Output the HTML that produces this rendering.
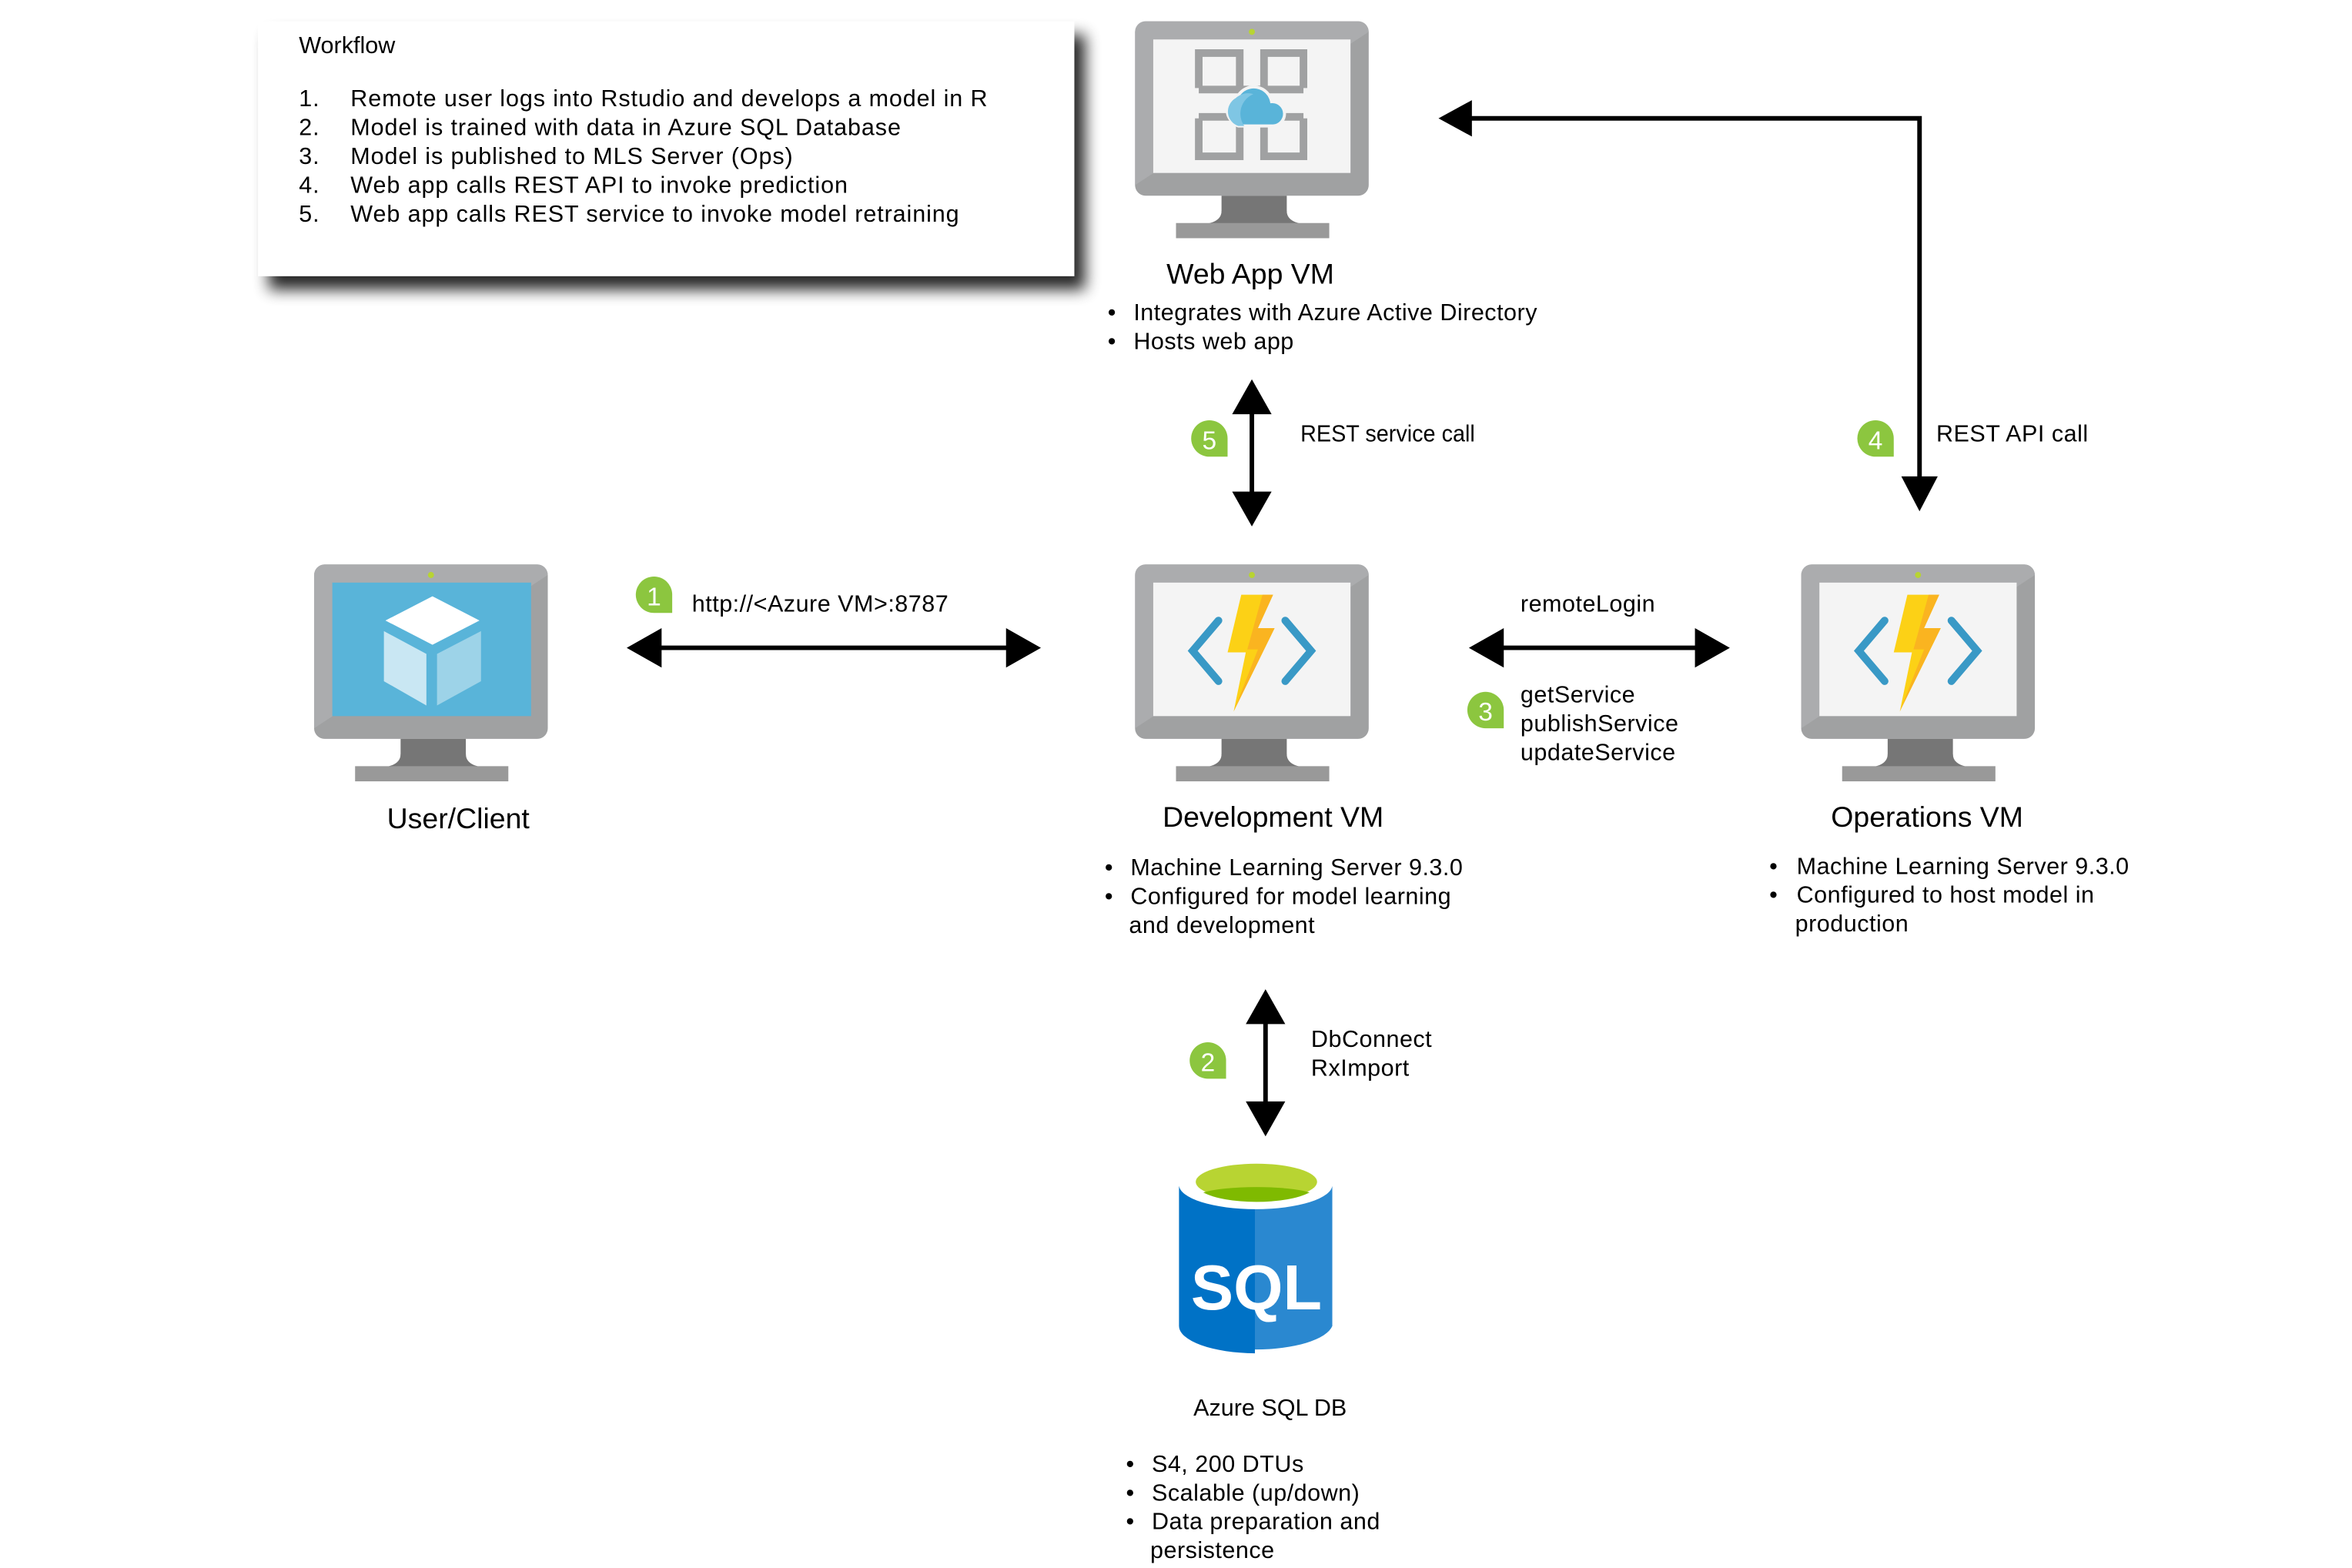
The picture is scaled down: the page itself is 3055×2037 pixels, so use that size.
<!DOCTYPE html>
<html><head><meta charset="utf-8"><style>
html,body{margin:0;padding:0;background:#fff;}
svg{display:block;}
text{font-family:"Liberation Sans",Arial,sans-serif;fill:#000;}
.b{font-size:15.5px;letter-spacing:0.25px;}
.w{font-size:15.5px;letter-spacing:0.45px;}
</style></head><body>
<svg width="3055" height="2037" viewBox="0 0 1550 1033.5" xmlns="http://www.w3.org/2000/svg">
<defs>
<filter id="sh" x="-10%" y="-20%" width="130%" height="150%">
<feGaussianBlur in="SourceAlpha" stdDeviation="5"/>
<feOffset dx="7" dy="9"/>
<feComponentTransfer><feFuncA type="linear" slope="0.85"/></feComponentTransfer>
<feMerge><feMergeNode/><feMergeNode in="SourceGraphic"/></feMerge>
</filter>
<g id="mon">
<rect x="0" y="0" width="154" height="115" rx="7" fill="#a0a1a2"/>
<path d="M7 0 H147 a7 7 0 0 1 7 7 L0 108 V7 a7 7 0 0 1 7 -7Z" fill="#b3b4b5" opacity="0.6"/>
<rect x="57" y="115" width="43" height="18" fill="#767676"/>
<path d="M57 125 q0 8 -14 9 h71 q-14 -1 -14 -9z" fill="#767676"/>
<rect x="27" y="133" width="101" height="10" fill="#999"/>
<circle cx="77" cy="7" r="2" fill="#b8d432"/>
</g>
<g id="fn">
<rect x="12" y="12" width="130" height="88" fill="#f4f4f4"/>
<path d="M55 37 L38 57 L55 77" stroke="#3999c6" stroke-width="5" fill="none" stroke-linecap="round"/>
<path d="M99 37 L116 57 L99 77" stroke="#3999c6" stroke-width="5" fill="none" stroke-linecap="round"/>
<path d="M70 20 H91 L81 42 H92 L65 97 L73 58 H61Z" fill="#fcd116"/>
<path d="M84 20 H91 L81 42 H92 L65 97 L81 56 H74Z" fill="#f9a825" opacity="0.7"/>
</g>
<g id="badge">
<path d="M0 -12 A12 12 0 1 0 0 12 H12 V0 A12 12 0 0 0 0 -12Z" fill="#8cc63f"/>
</g>
</defs>

<!-- Workflow box -->
<rect x="170" y="14" width="538" height="168" fill="#fff" filter="url(#sh)"/>
<text x="197" y="35" font-size="15.5">Workflow</text>
<g class="w">
<text x="197" y="70">1.</text><text x="231" y="70">Remote user logs into Rstudio and develops a model in R</text>
<text x="197" y="89">2.</text><text x="231" y="89">Model is trained with data in Azure SQL Database</text>
<text x="197" y="108">3.</text><text x="231" y="108">Model is published to MLS Server (Ops)</text>
<text x="197" y="127">4.</text><text x="231" y="127">Web app calls REST API to invoke prediction</text>
<text x="197" y="146">5.</text><text x="231" y="146">Web app calls REST service to invoke model retraining</text>
</g>

<!-- Web App VM -->
<g transform="translate(748,14)">
<use href="#mon"/>
<rect x="12" y="12" width="130" height="88" fill="#f4f4f4"/>
<g fill="none" stroke="#a0a1a2" stroke-width="5">
<path d="M42 44 V21 H69 V44"/><path d="M85 44 V21 H111 V44"/>
<path d="M42 64 V89 H69 V64"/><path d="M85 64 V89 H111 V64"/>
<path d="M42 45 H111"/><path d="M42 63 H111"/>
</g>
<path d="M63 65 a10 10 0 0 1 5 -16 a12 12 0 0 1 22 4 a8 8 0 0 1 1 16 H68 a8 8 0 0 1 -5 -4z" fill="#59b4d9" stroke="#f4f4f4" stroke-width="2"/>
<path d="M68 69 a10 10 0 0 1 -2 -18 a12 12 0 0 1 12 -3 a14 14 0 0 0 -6 21z" fill="#7fc6e4"/>
</g>
<text x="824" y="187" font-size="19" text-anchor="middle">Web App VM</text>
<g class="b"><text x="730" y="211">•</text><text x="747" y="211">Integrates with Azure Active Directory</text>
<text x="730" y="230">•</text><text x="747" y="230">Hosts web app</text></g>

<!-- arrow 5 -->
<line x1="825" y1="270" x2="825" y2="328" stroke="#000" stroke-width="3"/>
<path d="M825 250 L812 273 H838Z M825 347 L812 324 H838Z"/>
<use href="#badge" x="797" y="289"/><text x="797" y="296" font-size="17" text-anchor="middle" style="fill:#fff">5</text>
<text x="857" y="291" font-size="15.5" textLength="115" lengthAdjust="spacingAndGlyphs">REST service call</text>

<!-- arrow 4 -->
<path d="M968 78 H1265 V316" fill="none" stroke="#000" stroke-width="3"/>
<path d="M948 78 L970 66 V90Z M1265 337 L1253 314 H1277Z"/>
<use href="#badge" x="1236" y="289"/><text x="1236" y="296" font-size="17" text-anchor="middle" style="fill:#fff">4</text>
<text x="1276" y="291" class="b">REST API call</text>

<!-- User/Client -->
<g transform="translate(207,372)">
<use href="#mon"/>
<rect x="12" y="12" width="131" height="88" fill="#59b4d9"/>
<path d="M78 21 L109 37 L78 53 L47 37Z" fill="#fff"/>
<path d="M46 44 L74 59 V93 L46 77Z" fill="#c9e7f3"/>
<path d="M81 59 L110 44 V77 L81 93Z" fill="#9dd3e8"/>
</g>
<text x="302" y="546" font-size="19" text-anchor="middle">User/Client</text>

<!-- arrow 1 -->
<line x1="433" y1="427" x2="666" y2="427" stroke="#000" stroke-width="3"/>
<path d="M413 427 L436 414 V440Z M686 427 L663 414 V440Z"/>
<use href="#badge" x="431" y="392"/><text x="431" y="399" font-size="17" text-anchor="middle" style="fill:#fff">1</text>
<text x="456" y="403" class="b">http://&lt;Azure VM&gt;:8787</text>

<!-- Development VM -->
<g transform="translate(748,372)"><use href="#mon"/><use href="#fn"/></g>
<text x="839" y="545" font-size="19" text-anchor="middle">Development VM</text>
<g class="b"><text x="728" y="577">•</text><text x="745" y="577">Machine Learning Server 9.3.0</text>
<text x="728" y="596">•</text><text x="745" y="596">Configured for model learning</text>
<text x="744" y="615">and development</text></g>

<!-- arrow 3 -->
<line x1="988" y1="427" x2="1120" y2="427" stroke="#000" stroke-width="3"/>
<path d="M968 427 L991 414 V440Z M1140 427 L1117 414 V440Z"/>
<text x="1002" y="403" class="b">remoteLogin</text>
<use href="#badge" x="979" y="468"/><text x="979" y="475" font-size="17" text-anchor="middle" style="fill:#fff">3</text>
<g class="b"><text x="1002" y="463">getService</text><text x="1002" y="482">publishService</text><text x="1002" y="501">updateService</text></g>

<!-- Operations VM -->
<g transform="translate(1187,372)"><use href="#mon"/><use href="#fn"/></g>
<text x="1270" y="545" font-size="19" text-anchor="middle">Operations VM</text>
<g class="b"><text x="1166" y="576">•</text><text x="1184" y="576">Machine Learning Server 9.3.0</text>
<text x="1166" y="595">•</text><text x="1184" y="595">Configured to host model in</text>
<text x="1183" y="614">production</text></g>

<!-- arrow 2 -->
<line x1="834" y1="672" x2="834" y2="729" stroke="#000" stroke-width="3"/>
<path d="M834 652 L821 675 H847Z M834 749 L821 726 H847Z"/>
<use href="#badge" x="796" y="699"/><text x="796" y="706" font-size="17" text-anchor="middle" style="fill:#fff">2</text>
<g class="b"><text x="864" y="690">DbConnect</text><text x="864" y="709">RxImport</text></g>

<!-- SQL DB -->
<g>
<path d="M777 782 V874 A51 18 0 0 0 878 874 V782Z" fill="#2a88d0"/>
<path d="M777 782 V874 A51 18 0 0 0 827 892 V782Z" fill="#0072c6"/>
<ellipse cx="827.5" cy="781" rx="50.5" ry="16" fill="#fff"/>
<ellipse cx="828" cy="779" rx="40" ry="12" fill="#b8d432"/>
<path d="M793 786 A40 12 0 0 0 863 786 A40 7 0 0 0 793 786Z" fill="#7fba00"/>
<text x="828" y="863" font-size="42" font-weight="bold" text-anchor="middle" style="fill:#fff">SQL</text>
</g>
<text x="837" y="933" font-size="15.5" text-anchor="middle">Azure SQL DB</text>
<g class="b"><text x="742" y="970">•</text><text x="759" y="970">S4, 200 DTUs</text>
<text x="742" y="989">•</text><text x="759" y="989">Scalable (up/down)</text>
<text x="742" y="1008">•</text><text x="759" y="1008">Data preparation and</text>
<text x="758" y="1027">persistence</text></g>
</svg>
</body></html>
